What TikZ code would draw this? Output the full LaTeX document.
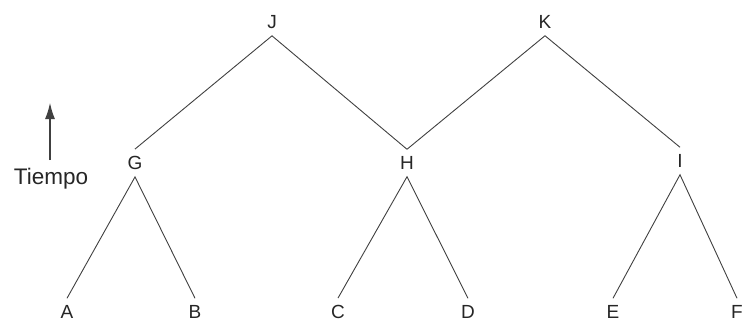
\documentclass[tikz,border=0pt]{standalone}
\usepackage{fontspec}
\setmainfont{Liberation Sans}
\usetikzlibrary{arrows.meta}
\begin{document}
\begin{tikzpicture}[x=1pt,y=-1pt,
  lbl/.style={inner sep=7pt,font=\fontsize{19}{19}\selectfont,text=black!85},
  edge/.style={draw=black!75,line width=0.9pt}]
\useasboundingbox (0,0) rectangle (744,322);
\node[lbl] (J) at (272,22) {J};
\node[lbl] (K) at (545,22) {K};
\node[lbl] (G) at (135,163) {G};
\node[lbl] (H) at (407,163) {H};
\node[lbl] (I) at (680,161) {I};
\node[lbl] (A) at (67,312) {A};
\node[lbl] (B) at (195,312) {B};
\node[lbl] (C) at (338,312) {C};
\node[lbl] (D) at (468,312) {D};
\node[lbl] (E) at (613,312) {E};
\node[lbl] (F) at (737,312) {F};
\node[inner sep=0pt,font=\fontsize{22.5}{22.5}\selectfont,text=black!85] (T) at (51,179) {Tiempo};
\coordinate (a0) at (50,160);
\coordinate (a1) at (50,103);
\draw[edge,line width=1.1pt,-{Latex[length=16pt,width=10pt]}] (a0) -- (a1);
\draw[edge] (G.north) -- (J.south) -- (H.north);
\draw[edge] (H.north) -- (K.south) -- (I.north);
\draw[edge] (A.north) -- (G.south) -- (B.north);
\draw[edge] (C.north) -- (H.south) -- (D.north);
\draw[edge] (E.north) -- (I.south) -- (F.north);
\end{tikzpicture}
\end{document}
